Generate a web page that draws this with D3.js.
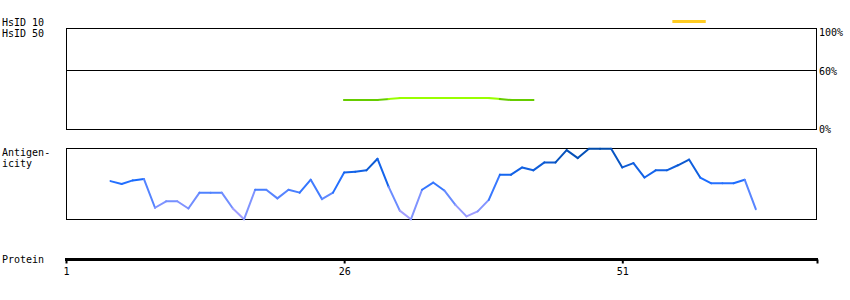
<!DOCTYPE html>
<html>
<head>
<meta charset="utf-8">
<script src="https://cdn.jsdelivr.net/npm/d3@7"></script>
<style>
  body { margin: 0; background: #fff; }
  text { font-family: "DejaVu Sans Mono", monospace; font-size: 10px; fill: #000; }
</style>
</head>
<body>
<div id="chart"></div>
<script>
// protein positions
const proteinLength = 68;
const proteinTicks = [1, 26, 51];

// HsID 10 hits (residue ranges)
const hsid10Ranges = [[56, 58]];

// HsID 50 identity (%) per residue
const hsidResidues = [26, 27, 28, 29, 30, 31, 32, 33, 34, 35, 36, 37, 38, 39, 40, 41, 42, 43];
const hsidValues = [30, 30, 30, 30, 31, 32, 32, 32, 32, 32, 32, 32, 32, 32, 31, 30, 30, 30];
const pctTicks = [100, 60, 0];

// antigenicity per residue (relative score)
const antiResidues = d3.range(5, 64);
const antiValues = [
  0.54, 0.50, 0.55, 0.57, 0.17, 0.26, 0.26, 0.16, 0.38, 0.38,
  0.38, 0.16, 0.01, 0.42, 0.42, 0.30, 0.42, 0.38, 0.56, 0.29,
  0.38, 0.66, 0.67, 0.69, 0.85, 0.46, 0.13, 0.01, 0.42, 0.52,
  0.41, 0.21, 0.05, 0.12, 0.28, 0.63, 0.63, 0.73, 0.69, 0.80,
  0.80, 0.97, 0.86, 0.99, 0.99, 0.99, 0.73, 0.79, 0.59, 0.69,
  0.69, 0.76, 0.84, 0.59, 0.51, 0.51, 0.51, 0.56, 0.15
];

const width = 850, height = 300;
const left = 66, right = 817;

const svg = d3.select("#chart")
  .append("svg")
  .attr("width", width)
  .attr("height", height);

const x = d3.scaleLinear().domain([1, proteinLength + 0.5]).range([left, right]);

// ---- HsID panel ----
const yPct = d3.scaleLinear().domain([0, 100]).range([130, 30]);

svg.append("text").attr("x", 2).attr("y", 26).text("HsID 10");
svg.append("text").attr("x", 2).attr("y", 37).text("HsID 50");

svg.selectAll(".hs10")
  .data(hsid10Ranges)
  .enter()
  .append("rect")
  .attr("class", "hs10")
  .attr("x", (d) => x(d[0] - 0.5))
  .attr("width", (d) => x(d[1] + 0.5) - x(d[0] - 0.5))
  .attr("y", 20)
  .attr("height", 3)
  .attr("fill", "#ffcc22");

svg.append("rect")
  .attr("x", left + 0.5)
  .attr("y", 28.5)
  .attr("width", right - left - 1)
  .attr("height", 101)
  .attr("fill", "none")
  .attr("stroke", "#000");

svg.append("line")
  .attr("x1", left).attr("x2", right - 0.5)
  .attr("y1", Math.round(yPct(60)) + 0.5)
  .attr("y2", Math.round(yPct(60)) + 0.5)
  .attr("stroke", "#000");

// % labels
const pctDy = { 100: 6, 60: 5, 0: 3 };
svg.selectAll(".pct")
  .data(pctTicks)
  .enter()
  .append("text")
  .attr("class", "pct")
  .attr("x", right + 2)
  .attr("y", (d) => yPct(d) + pctDy[d])
  .text((d) => d + "%");

const hsidSegs = d3.pairs(hsidResidues.map((r, i) => [r, hsidValues[i]]));
svg.selectAll(".hs50")
  .data(hsidSegs)
  .enter()
  .append("line")
  .attr("class", "hs50")
  .attr("x1", (d) => x(d[0][0]))
  .attr("x2", (d) => x(d[1][0]))
  .attr("y1", (d) => yPct(d[0][1]))
  .attr("y2", (d) => yPct(d[1][1]))
  .attr("stroke", (d) => (d[0][1] + d[1][1]) / 2 > 30.5 ? "#99ff00" : "#66cc00")
  .attr("stroke-width", 2)
  .attr("stroke-linecap", "square");

// ---- Antigenicity panel ----
const yAnti = d3.scaleLinear().domain([0, 1]).range([220, 148]);
const antiColor = d3.scaleLinear()
  .domain([0, 0.3, 0.55, 1])
  .range(["#b4a4ff", "#6a8cff", "#1a6cff", "#004aa8"]);

svg.append("text").attr("x", 2).attr("y", 156).text("Antigen-");
svg.append("text").attr("x", 2).attr("y", 167).text("icity");

svg.append("rect")
  .attr("x", left + 0.5)
  .attr("y", 148.5)
  .attr("width", right - left - 1)
  .attr("height", 71)
  .attr("fill", "none")
  .attr("stroke", "#000");

const antiSegs = d3.pairs(antiResidues.map((r, i) => [r, antiValues[i]]));
svg.selectAll(".anti")
  .data(antiSegs)
  .enter()
  .append("line")
  .attr("class", "anti")
  .attr("x1", (d) => x(d[0][0]))
  .attr("x2", (d) => x(d[1][0]))
  .attr("y1", (d) => yAnti(d[0][1]))
  .attr("y2", (d) => yAnti(d[1][1]))
  .attr("stroke", (d) => antiColor((d[0][1] + d[1][1]) / 2))
  .attr("stroke-width", 2)
  .attr("stroke-linecap", "round");

// ---- Protein axis ----
svg.append("text").attr("x", 2).attr("y", 263).text("Protein");

const axisY = 259.5;
const axis = svg.append("g")
  .attr("transform", `translate(0, ${axisY})`)
  .call(d3.axisBottom(x).tickValues(proteinTicks.concat([proteinLength + 0.5])).tickSize(4).tickPadding(4.5)
    .tickFormat((d) => proteinTicks.includes(d) ? d : ""));

axis.select(".domain").remove();
axis.selectAll(".tick line").attr("stroke", "#000").attr("stroke-width", 2);
axis.selectAll(".tick text")
  .style("font-family", '"DejaVu Sans Mono", monospace')
  .style("font-size", "10px")
  .attr("fill", "#000");

svg.append("line")
  .attr("x1", x(1) - 1).attr("x2", x(proteinLength + 0.5) + 1)
  .attr("y1", axisY).attr("y2", axisY)
  .attr("stroke", "#000")
  .attr("stroke-width", 3);
</script>
</body>
</html>
